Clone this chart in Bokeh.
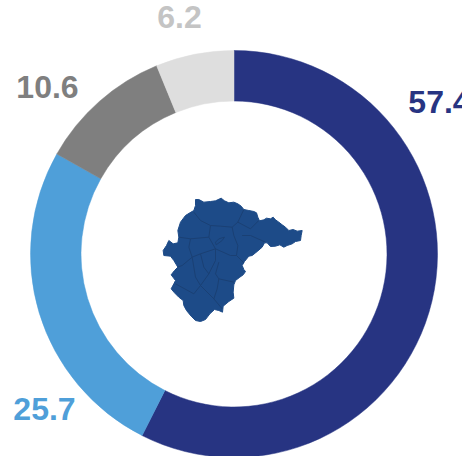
from math import pi
from bokeh.plotting import figure
from bokeh.models import Range1d, ColumnDataSource
from bokeh.core.properties import value
from bokeh.embed import file_html
from bokeh.resources import INLINE

# Donut data (clockwise from 12 o'clock)
labels = ["57.4", "25.7", "10.6", "6.2"]
shares = [57.4, 25.7, 10.6, 6.2]
slice_colors = ["#273482", "#4f9fd9", "#7f7f7f", "#dedede"]
label_colors = ["#273482", "#4f9fd9", "#7f7f7f", "#c4c4c4"]

# Map silhouette
map_x = [135,145,160,180,195,212,222,235,250,262,272,280,295,310,318,322,327,340,348,360,368,375,385,395,405,415,428,440,455,452,450,435,425,410,400,388,375,360,350,342,335,320,305,295,282,275,280,285,278,268,255,250,248,250,235,218,216,205,192,178,165,150,135,122,108,100,98,85,72,62,70,75,62,72,82,70,60,40,38,48,55,68,82,85,82,90,105,118,130,135]
map_y = [42,42,50,48,46,38,46,52,50,55,62,72,75,78,82,95,106,103,98,100,95,103,110,118,125,135,132,137,135,150,165,168,175,180,185,178,182,183,172,172,185,198,210,212,228,240,252,258,268,275,285,298,320,338,348,362,380,375,372,385,402,408,405,392,375,360,345,335,322,310,295,285,268,255,245,225,212,210,195,180,165,175,172,155,135,110,90,82,75,60]

# Internal district borders of the map
border_xs = [
    [130,150,180,210,245,262,280],
    [180,175,120,85],
    [245,250,262,258,280],
    [262,300,325],
    [275,300,345],
    [120,115,125,95,80],
    [175,195,150,125],
    [150,160,175,195,195],
    [195,240,258],
    [205,195,205,200,190],
    [125,135,150,175],
    [150,190,215],
    [150,130,75],
    [205,250],
    [195,205,222,215,197,195],
]
border_ys = [
    [80,105,120,122,125,110,72],
    [120,155,160,155],
    [125,150,180,210,232],
    [110,130,105],
    [150,150,170],
    [160,185,215,240,245],
    [155,190,205,215],
    [205,245,265,225,190],
    [190,210,210],
    [230,265,280,310,340],
    [215,275,300,265],
    [300,340,370],
    [300,325,295],
    [280,290],
    [170,160,155,165,178,170],
]

# Layout
CX, CY = 233.5, 253.5
R_OUT, R_IN = 203.5, 153
label_px = [(439, 101), (44, 408), (47, 86), (179, 16)]

total = sum(shares)
starts, ends = [], []
acc = 0.0
for s in shares:
    starts.append(pi / 2 - 2 * pi * (acc + s) / total)
    ends.append(pi / 2 - 2 * pi * acc / total)
    acc += s

p = figure(width=462, height=456, output_backend="svg", toolbar_location=None,
           x_range=Range1d(0 - CX, 462 - CX), y_range=Range1d(CY - 456, CY),
           min_border=0, outline_line_color=None, background_fill_color="white",
           border_fill_color="white")
p.axis.visible = False
p.grid.visible = False

p.annular_wedge(x=0, y=0, inner_radius=R_IN, outer_radius=R_OUT,
                start_angle=starts, end_angle=ends,
                fill_color=slice_colors, line_color=slice_colors, line_width=0.5)

def mx(v):
    return 150 + v / 3 - CX

def my(v):
    return CY - (185 + v / 3)

p.patch([mx(v) for v in map_x], [my(v) for v in map_y],
        fill_color="#1d4b88", line_color="#1d4b88", line_width=1)
p.multi_line([[mx(v) for v in a] for a in border_xs],
             [[my(v) for v in a] for a in border_ys],
             line_color="#1a4074", line_width=1)

src = ColumnDataSource(dict(x=[a - CX for a, b in label_px],
                            y=[CY - b for a, b in label_px],
                            t=labels, c=label_colors))
p.text("x", "y", text="t", source=src, text_color="c",
       text_font=value("Liberation Sans"), text_font_style="bold",
       text_font_size="32px", text_align="center", text_baseline="middle")

open("out.html", "w").write(file_html(p, INLINE))
